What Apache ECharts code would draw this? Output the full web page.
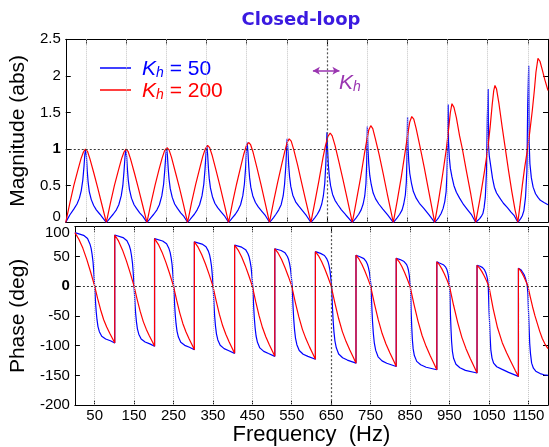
<!DOCTYPE html>
<html><head><meta charset="utf-8">
<script src="https://cdn.jsdelivr.net/npm/echarts@6/dist/echarts.min.js"></script>
<style>html,body{margin:0;padding:0;background:#fff}#c{width:549px;height:447px}</style>
</head><body><div id="c"></div>
<script>
// ---- tick labels / categories ----
const freqTicks = [50,150,250,350,450,550,650,750,850,950,1050,1150];
const seriesNames = ['Kh = 50', 'Kh = 200'];

// ---- magnitude (abs), Kh = 50 ----
const magBlue = [
[0,0],[5,0.05],[10,0.1],[20,0.18],[28,0.25],[34,0.33],[38.5,0.43],[42.5,0.58],[45.5,0.77],[47.5,0.93],[49.5,1.0],[51.5,0.9],[53.5,0.7],[55.5,0.56],[58.5,0.42],[63.5,0.31],[69.5,0.23],[76,0.17],[85,0.11],[93,0.055],[101,0],
[106,0.03],[111,0.065],[118,0.11],[126,0.17],[132,0.24],[138,0.36],[142,0.5],[145,0.7],[147.5,0.9],[149.5,1.0],[151.5,0.9],[153.5,0.72],[155.5,0.58],[158.5,0.45],[163.5,0.33],[170,0.24],[176,0.19],[184,0.13],[192,0.08],[202,0],
[207,0.03],[212,0.065],[219,0.11],[227,0.17],[233,0.24],[239,0.36],[243.5,0.52],[246.5,0.72],[249,0.92],[251,1.02],[253,0.91],[255,0.73],[257,0.59],[260,0.46],[265,0.34],[271,0.25],[278,0.19],[286,0.13],[294,0.08],[303,0],
[308,0.03],[313,0.065],[320,0.11],[327,0.17],[333,0.24],[339,0.36],[343.5,0.52],[346.5,0.72],[349,0.94],[351,1.05],[353,0.93],[355,0.74],[357,0.6],[360,0.47],[365,0.35],[371,0.26],[378,0.2],[387,0.14],[396,0.08],[405,0],
[410,0.03],[415,0.065],[422,0.11],[429,0.17],[435,0.24],[440.5,0.36],[444.5,0.52],[447.5,0.74],[449.5,0.96],[451.5,1.09],[453.5,0.95],[455.5,0.75],[457.5,0.61],[460.5,0.48],[465.5,0.36],[472,0.27],[479,0.21],[488,0.15],[497,0.09],[507,0],
[512,0.03],[517,0.065],[523,0.11],[530,0.17],[536,0.24],[541,0.36],[544.5,0.52],[547.5,0.76],[549.5,0.99],[551,1.14],[553,0.97],[555,0.76],[557,0.62],[560,0.49],[565,0.37],[572,0.28],[580,0.22],[589,0.16],[599,0.09],[610,0],
[615,0.03],[620,0.065],[626,0.11],[632,0.17],[637,0.25],[641,0.36],[644.5,0.53],[647,0.78],[648.8,1.05],[650,1.23],[651.5,1.0],[653.5,0.78],[656,0.62],[659,0.5],[664,0.38],[670,0.3],[677,0.24],[686,0.17],[697,0.1],[713,0],
[718,0.03],[723,0.065],[729,0.11],[735,0.17],[740,0.25],[744,0.36],[747,0.53],[748.8,0.8],[749.8,1.1],[750.5,1.31],[752,1.0],[754,0.8],[756.5,0.64],[760,0.52],[765,0.4],[771,0.32],[779,0.25],[789,0.18],[801,0.1],[815,0],
[820,0.03],[825,0.065],[831,0.11],[837,0.17],[841,0.25],[845,0.37],[847.5,0.55],[849,0.85],[849.8,1.2],[850.5,1.44],[851.5,1.05],[853.5,0.83],[856,0.67],[860,0.54],[865,0.42],[872,0.33],[880,0.26],[891,0.19],[904,0.1],[918,0],
[923,0.03],[928,0.065],[934,0.12],[939,0.19],[943,0.28],[946.5,0.42],[948.5,0.65],[950,1.0],[950.8,1.38],[951.5,1.61],[952.5,1.1],[954.5,0.88],[957,0.74],[961,0.62],[966,0.5],[972,0.41],[980,0.33],[990,0.24],[1000,0.17],[1010,0.1],[1020,0],
[1025,0.025],[1030,0.05],[1034,0.08],[1038,0.12],[1041,0.2],[1044,0.34],[1047,0.7],[1049,1.42],[1051,1.82],[1052,1.05],[1054,0.9],[1058,0.75],[1062,0.6],[1066.5,0.48],[1072,0.4],[1079,0.34],[1089,0.26],[1099,0.2],[1108,0.14],[1116,0.09],[1125,0],
[1128,0.02],[1132,0.05],[1136,0.09],[1140,0.16],[1144,0.34],[1147.5,0.7],[1149.5,1.6],[1152,2.14],[1153,1.1],[1155,0.8],[1158.5,0.61],[1163,0.48],[1169,0.39],[1175,0.34],[1181,0.3],[1190,0.27],[1200,0.24]
];

// ---- magnitude (abs), Kh = 200 ----
const magRed = [
[0,0],[5,0.13],[10,0.26],[20,0.5],[30,0.71],[38,0.87],[44,0.96],[49,1.0],[54,0.97],[60,0.87],[70,0.67],[80,0.46],[90,0.24],[101,0],
[106,0.13],[111,0.26],[121,0.5],[131,0.71],[139,0.87],[145,0.96],[150,1.0],[155,0.97],[161,0.87],[171,0.67],[181,0.46],[191,0.24],[202,0],
[207,0.13],[212,0.26],[222,0.5],[232,0.72],[240,0.88],[246,0.98],[252,1.02],[257,0.99],[263,0.89],[273,0.68],[283,0.47],[293,0.24],[303,0],
[308,0.13],[313,0.27],[323,0.51],[333,0.73],[341,0.9],[347,1.0],[353,1.05],[358,1.02],[364,0.92],[374,0.71],[384,0.49],[394,0.26],[405,0],
[410,0.13],[415,0.27],[425,0.52],[435,0.75],[443,0.93],[449,1.04],[455,1.09],[460,1.06],[466,0.96],[476,0.74],[486,0.51],[496,0.27],[507,0],
[512,0.14],[517,0.28],[527,0.54],[537,0.78],[545,0.97],[551,1.09],[556,1.14],[561,1.11],[567,1.0],[577,0.78],[587,0.54],[597,0.3],[610,0],
[615,0.14],[620,0.28],[630,0.57],[640,0.88],[646,1.04],[652,1.17],[658,1.22],[663,1.18],[670,1.05],[680,0.82],[690,0.58],[700,0.33],[713,0],
[718,0.14],[723,0.29],[733,0.59],[743,0.93],[749,1.12],[754,1.26],[759,1.32],[764,1.28],[770,1.15],[780,0.92],[790,0.66],[800,0.39],[815,0],
[820,0.15],[825,0.3],[835,0.62],[845,0.98],[851,1.2],[856,1.37],[861,1.445],[866,1.41],[872,1.28],[882,1.02],[892,0.75],[902,0.46],[918,0],
[923,0.15],[928,0.31],[938,0.66],[947,1.0],[953,1.29],[957,1.5],[961,1.62],[966,1.57],[972,1.43],[980,1.18],[987,1.0],[997,0.7],[1008,0.38],[1020,0],
[1025,0.15],[1030,0.3],[1034,0.43],[1042,0.7],[1050,1.0],[1056,1.3],[1061,1.6],[1065,1.8],[1068,1.87],[1072,1.82],[1078,1.62],[1086,1.3],[1094,1.0],[1102,0.7],[1110,0.42],[1118,0.17],[1125,0],
[1130,0.22],[1136,0.5],[1142,0.75],[1149,1.0],[1155,1.25],[1161,1.53],[1166,1.8],[1170,2.05],[1175,2.24],[1180,2.2],[1186,2.08],[1192,1.95],[1200,1.8]
];

// ---- phase (deg), Kh = 50 ----
const phaseBlue = [
[0,90],[22,85.5],[32,80.1],[38,71.1],[41,63.9],[43.5,54],[46,40.5],[47.5,27],[49,11.7],[50,0],[51,-11.5],[52.5,-28.7],[54,-43],[56,-56.4],[58.5,-67.9],[62,-76.5],[68,-84.1],[78,-88.9],[90,-91.8],[101,-95.6],
[101,86],[122,81.7],[132,76.5],[138,67.9],[141,61.1],[143.5,51.6],[146,38.7],[147.5,25.8],[149,11.2],[150,0],[151,-12.1],[152.5,-30.3],[154,-45.5],[156,-59.6],[158.5,-71.7],[162,-80.8],[168,-88.9],[178,-93.9],[190,-97],[202,-101],
[202,80],[222.5,76],[232.5,71.2],[238.5,63.2],[241.5,56.8],[244,48],[246.5,36],[248,24],[249.5,10.4],[250.5,0],[251.5,-12.8],[253,-32.1],[254.5,-48.2],[256.5,-63.1],[259,-76],[262.5,-85.6],[268.5,-94.2],[278.5,-99.5],[290.5,-102.7],[303,-107],
[303,74.5],[322.5,70.8],[332.5,66.3],[338.5,58.9],[341.5,52.9],[344,44.7],[346.5,33.5],[348,22.4],[349.5,9.7],[350.5,0],[351.5,-13.6],[353,-33.9],[354.5,-50.9],[356.5,-66.7],[359,-80.2],[362.5,-90.4],[368.5,-99.4],[378.5,-105.1],[390.5,-108.5],[405,-113],
[405,69],[423,65.6],[433,61.4],[439,54.5],[442,49],[444.5,41.4],[447,31.1],[448.5,20.7],[450,9],[451,0],[452,-14.2],[453.5,-35.4],[455,-53.1],[457,-69.6],[459.5,-83.8],[463,-94.4],[469,-103.8],[479,-109.7],[491,-113.3],[507,-118],
[507,63],[523,59.9],[533,56.1],[539,49.8],[542,44.7],[544.5,37.8],[547,28.4],[548.5,18.9],[550,8.2],[551,0],[552,-14.8],[553.5,-36.9],[555,-55.4],[557,-72.6],[559.5,-87.3],[563,-98.4],[569,-108.2],[579,-114.4],[591,-118.1],[610,-123],
[610,58],[623,55.1],[633,51.6],[639,45.8],[642,41.2],[644.5,34.8],[647,26.1],[648.5,17.4],[650,7.5],[651,0],[652,-15.5],[653.5,-38.9],[655,-58.3],[657,-76.4],[659.5,-91.9],[663,-103.6],[669,-114],[679,-120.4],[691,-124.3],[713,-129.5],
[713,52],[723,49.4],[733,46.3],[739,41.1],[742,36.9],[744.5,31.2],[747,23.4],[748.5,15.6],[750,6.8],[751,0],[752,-16.2],[753.5,-40.5],[755,-60.8],[757,-79.7],[759.5,-95.9],[763,-108],[769,-118.8],[779,-125.6],[791,-129.6],[815,-135],
[815,47],[825,44.7],[835,41.4],[841,36.7],[844,32],[846,26.8],[848,18.8],[849,12.7],[850,5.6],[851,0],[852,-19.7],[853,-45],[854.5,-70.3],[856,-90],[858,-105.5],[861,-116.7],[867,-126.5],[877,-132.2],[891,-136.4],[918,-140.6],
[918,41],[924.5,39],[934.5,36.1],[940.5,32],[943.5,27.9],[945.5,23.4],[947.5,16.4],[948.5,11.1],[949.5,4.9],[950.5,0],[951.5,-20.4],[952.5,-46.7],[954,-73],[955.5,-93.4],[957.5,-109.5],[960.5,-121.2],[966.5,-131.4],[976.5,-137.2],[990.5,-141.6],[1020,-146],
[1020,35],[1028,33.5],[1034,31.2],[1039,27.3],[1042,23],[1044,19],[1046,13.5],[1047,10],[1048,4],[1048.5,0],[1049.5,-22],[1050.5,-42],[1051.5,-56],[1053,-82],[1055,-107],[1058,-121],[1062,-129.5],[1070,-135.5],[1082.5,-139.5],[1100,-145],[1125,-151.7],
[1125,30],[1132,27],[1136,23],[1140,18.5],[1143,13],[1145,8],[1147,3],[1148,0],[1149,-12],[1150,-32],[1151,-51],[1152,-69],[1153.6,-96],[1155.5,-113],[1158.5,-129.5],[1163,-138],[1169,-143],[1180,-147],[1190,-149],[1200,-150]
];

// ---- phase (deg), Kh = 200 ----
const phaseRed = [
[0,90],[10,79],[20,64],[30,45],[40,23.4],[50,0],[57.7,-21],[65.3,-40],[73,-56.4],[80.6,-68.8],[88.3,-79.3],[95.9,-88.9],[101,-95.6],
[101,86],[110.8,75.7],[120.6,61],[130.4,43],[140.2,22.4],[150,0],[157.8,-22.2],[165.6,-42.4],[173.4,-59.6],[181.2,-72.7],[189,-83.8],[196.8,-93.9],[202,-101],
[202,80],[211.6,70.4],[221.2,56.8],[230.8,40],[240.4,20.8],[250,0],[258,-23.5],[265.9,-44.9],[273.9,-63.1],[281.8,-77],[289.8,-88.8],[297.7,-99.5],[303,-107],
[303,74.5],[312.4,65.6],[321.8,52.9],[331.2,37.3],[340.6,19.4],[350,0],[358.3,-24.9],[366.5,-47.5],[374.8,-66.7],[383,-81.4],[391.3,-93.8],[399.5,-105.1],[405,-113],
[405,69],[414,60.7],[423,49],[432,34.5],[441,17.9],[450,0],[458.6,-26],[467.1,-49.6],[475.7,-69.6],[484.2,-85],[492.8,-97.9],[501.3,-109.7],[507,-118],
[507,63],[515.6,55.4],[524.2,44.7],[532.8,31.5],[541.4,16.4],[550,0],[559,-27.1],[568,-51.7],[577,-72.6],[586,-88.6],[595,-102.1],[604,-114.4],[610,-123],
[610,58],[618,51],[626,41.2],[634,29],[642,15.1],[650,0],[659.5,-28.5],[668.9,-54.4],[678.4,-76.4],[687.8,-93.2],[697.3,-107.5],[706.7,-120.4],[713,-129.5],
[713,52],[720.4,45.8],[727.8,36.9],[735.2,26],[742.6,13.5],[750,0],[759.8,-29.7],[769.5,-56.7],[779.3,-79.7],[789,-97.2],[798.8,-112],[808.5,-125.6],[815,-135],
[815,47],[822,41.4],[829,33.4],[836,23.5],[843,12.2],[850,0],[860.2,-30.9],[870.4,-59.1],[880.6,-83],[890.8,-101.2],[901,-116.7],[911.2,-130.8],[918,-140.6],
[918,41],[924.4,36.1],[930.8,29.1],[937.2,20.5],[943.6,10.7],[950,0],[960.5,-32.1],[971,-61.3],[981.5,-86.1],[992,-105.1],[1002.5,-121.2],[1013,-135.8],[1020,-146],
[1020,35],[1026,30.8],[1032,24.9],[1038,17.5],[1044,9.1],[1050,0],[1061,-38],[1072,-70],[1084,-95],[1095,-112],[1106,-127],[1117,-142],[1125,-151.7],
[1125,30],[1129.8,26.4],[1134.6,21.3],[1139.4,15],[1144.2,7.8],[1149,0],[1155,-18],[1161,-35],[1167,-50],[1173,-63],[1179,-76],[1185.5,-88],[1192,-97],[1200,-105]
];

// ---- styling ----
const FONT = '"Liberation Sans", Arial, sans-serif';
const BLUE = '#0000ff', RED = '#ff0000', PURPLE = '#9a35b0';
const dotted = {color:'#c4c4c4', type:'dotted', width:1};
const dark = {color:'#555', type:[2,2], width:1.2};
const refLine = {color:'#222', type:[2,2], width:0.9};

function vGrid(){
  return freqTicks.map(f => ({xAxis:f, lineStyle: f===650 ? dark : dotted}));
}
function xAx(grid, pos, labels){
  const a = {
    gridIndex:grid, type:'value', min:0, max:1200, position:pos,
    axisLine:{show:true, onZero:false, lineStyle:{color:'#000', width:1}},
    axisTick:{show:true, inside:true, length:5, customValues:freqTicks, lineStyle:{color:'#000'}},
    axisLabel:{show:labels, customValues:freqTicks, color:'#000', fontSize:15, fontFamily:FONT, margin:3,
      formatter: v => String(v)},
    splitLine:{show:false}
  };
  if (labels){
    a.name = 'Frequency  (Hz)'; a.nameLocation='middle'; a.nameGap=18;
    a.nameTextStyle = {fontSize:22, fontFamily:FONT, color:'#000'};
  }
  return a;
}
function yAx(grid, pos, min, max, step, labels, name, fmt, rich){
  const a = {
    gridIndex:grid, type:'value', min:min, max:max, interval:step, position:pos,
    axisLine:{show:true, onZero:false, lineStyle:{color:'#000', width:1}},
    axisTick:{show:true, inside:true, length:5, lineStyle:{color:'#000'}},
    axisLabel:{show:labels, color:'#000', fontSize:15, fontFamily:FONT, margin:5, formatter:fmt, rich:rich},
    splitLine:{show:false}
  };
  if (name){
    a.name = name; a.nameLocation='middle'; a.nameGap=31;
    a.nameTextStyle = {fontSize:21, fontFamily:FONT, color:'#000'};
  }
  return a;
}
const labRich = {
  b:{fontWeight:'bold', fontSize:15, fontFamily:FONT, color:'#000'},
  z:{fontSize:15, fontFamily:FONT, color:'#000', padding:[0,0,10,0]},
  t:{fontSize:15, fontFamily:FONT, color:'#000', padding:[12,0,0,0]}
};
const magFmt = v => v===1 ? '{b|1}' : (v===0 ? '{z|0}' : String(v));
const phFmt = v => v===0 ? '{b|0}' : (v===100 ? '{t|100}' : String(v));

function legRich(c, s){
  const o = {};
  o['k'+s] = {color:c, fontSize:21, fontStyle:'italic', fontFamily:FONT, verticalAlign:'bottom', lineHeight:24};
  o['h'+s] = {color:c, fontSize:14, fontStyle:'italic', fontFamily:FONT, verticalAlign:'bottom', lineHeight:14};
  o['t'+s] = {color:c, fontSize:21, fontFamily:FONT, verticalAlign:'bottom', lineHeight:24};
  return o;
}

const chart = echarts.init(document.getElementById('c'), null, {renderer:'canvas'});
const lineSeries = (name, data, color, xi, yi, extra) => Object.assign({
  name:name, type:'line', data:data, xAxisIndex:xi, yAxisIndex:yi,
  symbol:'none', showSymbol:false, smooth:false, animation:false, z:3,
  lineStyle:{color:color, width:1.2}, itemStyle:{color:color}, clip:true
}, extra||{});

chart.setOption({
  animation:false,
  backgroundColor:'#fff',
  title:{text:'Closed-loop', left:296, top:6, textAlign:'center',
    textStyle:{fontFamily:'"DejaVu Sans", sans-serif', fontWeight:'bold', fontSize:18, color:'#3a1ae0'}},
  grid:[
    {left:62, right:1, top:39.3, height:183},
    {left:62, right:1, top:226.7, height:181.3}
  ],
  legend:{
    data:seriesNames, orient:'vertical', left:95, top:54, itemWidth:31, itemHeight:1.5, itemGap:1,
    icon:'rect', selectedMode:false,
    formatter: n => n===seriesNames[0] ? '{kb|K}{hb|h}{tb| = 50}' : '{kr|K}{hr|h}{tr| = 200}',
    textStyle:{padding:[0,0,0,6], rich:Object.assign({}, legRich(BLUE,'b'), legRich(RED,'r'))}
  },
  xAxis:[ xAx(0,'bottom',false), xAx(0,'top',false), xAx(1,'bottom',true), xAx(1,'top',false) ],
  yAxis:[
    yAx(0,'left',0,2.5,0.5,true,'Magnitude (abs)',magFmt,labRich),
    yAx(0,'right',0,2.5,0.5,false),
    yAx(1,'left',-200,100,50,true,'Phase (deg)',phFmt,labRich),
    yAx(1,'right',-200,100,50,false)
  ],
  graphic:[
    {type:'text', left:339, top:73, z:10,
     style:{text:'{k|K}{h|h}', rich:{
       k:{fontSize:21, fontStyle:'italic', fontFamily:FONT, fill:PURPLE, color:PURPLE, verticalAlign:'bottom', lineHeight:24},
       h:{fontSize:14, fontStyle:'italic', fontFamily:FONT, fill:PURPLE, color:PURPLE, verticalAlign:'bottom', lineHeight:14}}}}
  ],
  series:[
    {type:'line', xAxisIndex:0, yAxisIndex:0, data:[], z:1, silent:true,
     markLine:{silent:true, symbol:'none', label:{show:false}, animation:false,
       data: vGrid().concat([{yAxis:1, lineStyle:refLine}])}},
    {type:'line', xAxisIndex:2, yAxisIndex:2, data:[], z:1, silent:true,
     markLine:{silent:true, symbol:'none', label:{show:false}, animation:false,
       data: vGrid().concat([{yAxis:0, lineStyle:refLine}])}},
    lineSeries(seriesNames[0], magBlue, BLUE, 0, 0),
    lineSeries(seriesNames[1], magRed, RED, 0, 0, {
      markLine:{silent:true, animation:false, label:{show:false}, symbol:['arrow','arrow'], symbolSize:[6,7],
        lineStyle:{color:PURPLE, width:1.5, type:'solid'},
        data:[[{coord:[615,2.07]},{coord:[681,2.07]}]]}}),
    lineSeries(seriesNames[0], phaseBlue, BLUE, 2, 2),
    lineSeries(seriesNames[1], phaseRed, RED, 2, 2)
  ]
});
</script>
</body></html>
